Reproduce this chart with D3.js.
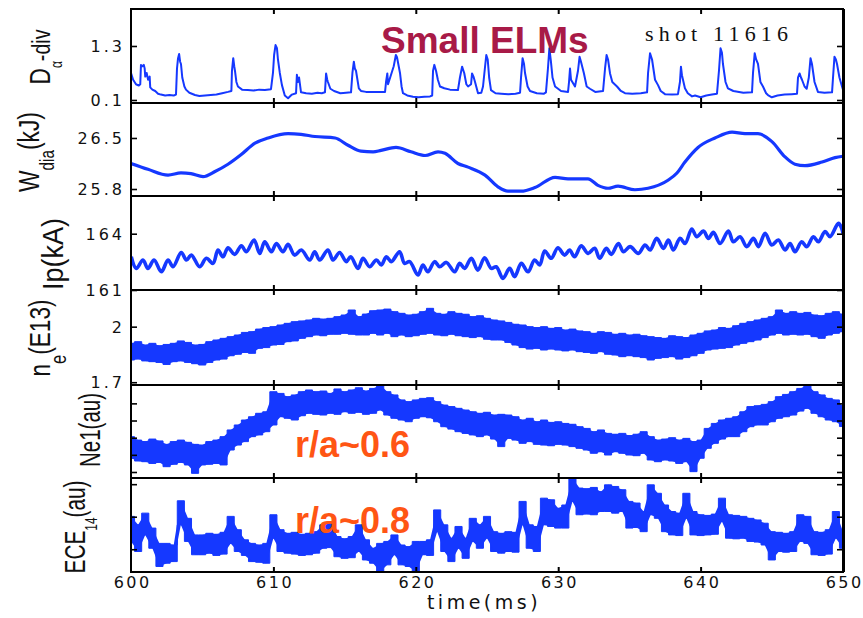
<!DOCTYPE html>
<html><head><meta charset="utf-8">
<script src="https://cdn.jsdelivr.net/npm/d3@7"></script>
<style>body{margin:0;background:#fff} svg{display:block}</style>
</head><body><svg id="c" width="863" height="618"></svg>
<script>
// ---------------- DATA ----------------
const timeDomain=[600,650];
const xTicks=[600,610,620,630,640,650];
const xTickLabels=["600","610","620","630","640","650"];
const yTickVals=[[0.1,1.3],[25.8,26.5],[161,164],[1.7,2],[0,1,2,3,4],[0,1,2]];
const yTickLabels=[["0.1","1.3"],["25.8","26.5"],["161","164"],["1.7","2"],null,null];

// D-alpha divertor signal [time(ms), value]
const dAlpha=[[600.00,0.70],[600.15,0.55],[600.35,0.45],[600.55,0.42],[600.65,0.45],[600.70,0.88],[600.80,0.85],[600.90,0.88],[600.96,0.80],[601.00,0.62],[601.10,0.70],[601.20,0.55],[601.31,0.62],[601.35,0.38],[601.50,0.33],[601.70,0.30],[601.90,0.24],[602.10,0.22],[602.40,0.20],[602.70,0.21],[603.00,0.20],[603.16,0.22],[603.23,0.80],[603.30,1.02],[603.38,1.12],[603.45,0.95],[603.51,0.90],[603.60,0.60],[603.75,0.40],[603.86,0.33],[604.10,0.26],[604.49,0.21],[604.80,0.19],[605.20,0.20],[605.60,0.21],[606.00,0.22],[606.40,0.25],[606.81,0.28],[607.05,0.30],[607.09,0.75],[607.18,1.03],[607.25,0.85],[607.30,0.75],[607.40,0.50],[607.51,0.40],[607.80,0.33],[608.20,0.32],[608.60,0.31],[609.00,0.33],[609.40,0.32],[609.83,0.34],[609.97,0.70],[610.05,1.10],[610.15,1.32],[610.25,1.25],[610.32,1.00],[610.45,0.70],[610.60,0.43],[610.80,0.20],[611.03,0.14],[611.30,0.22],[611.59,0.25],[611.65,0.66],[611.72,0.50],[611.80,0.60],[611.94,0.27],[612.30,0.25],[612.70,0.24],[613.10,0.26],[613.40,0.25],[613.62,0.27],[613.70,0.69],[613.78,0.55],[613.83,0.50],[614.00,0.35],[614.26,0.30],[614.70,0.25],[615.10,0.26],[615.45,0.27],[615.55,0.70],[615.65,0.95],[615.72,0.80],[615.80,0.75],[616.00,0.36],[616.15,0.30],[616.50,0.28],[617.00,0.28],[617.50,0.28],[617.84,0.28],[617.91,0.50],[618.00,0.69],[618.05,0.45],[618.20,0.60],[618.45,0.85],[618.60,1.10],[618.68,1.05],[618.80,0.85],[618.89,0.70],[619.00,0.40],[619.10,0.25],[619.40,0.20],[619.80,0.17],[620.20,0.16],[620.60,0.17],[621.00,0.18],[621.15,0.20],[621.21,0.75],[621.30,0.88],[621.42,0.75],[621.55,0.55],[621.70,0.40],[622.00,0.36],[622.40,0.33],[622.96,0.32],[623.10,0.60],[623.25,0.84],[623.40,0.70],[623.55,0.45],[623.67,0.40],[623.88,0.45],[623.95,0.69],[624.05,0.62],[624.16,0.50],[624.37,0.25],[624.60,0.26],[624.72,0.40],[624.85,0.80],[624.95,1.10],[625.05,1.00],[625.15,0.60],[625.28,0.32],[625.60,0.25],[626.00,0.24],[626.50,0.23],[627.00,0.24],[627.32,0.26],[627.39,0.60],[627.50,1.03],[627.60,0.90],[627.67,0.70],[627.85,0.40],[628.02,0.30],[628.50,0.25],[629.00,0.24],[629.14,0.27],[629.28,0.80],[629.38,1.25],[629.49,0.95],[629.60,0.60],[629.78,0.40],[630.20,0.30],[630.69,0.28],[630.76,0.50],[630.83,0.80],[630.90,0.55],[631.18,0.40],[631.39,0.75],[631.50,1.06],[631.60,0.95],[631.80,0.70],[632.00,0.40],[632.23,0.35],[632.60,0.28],[633.15,0.30],[633.29,0.80],[633.40,1.10],[633.50,1.00],[633.64,0.69],[633.80,0.50],[634.13,0.40],[634.40,0.30],[634.69,0.25],[635.20,0.24],[635.80,0.25],[636.24,0.27],[636.31,0.70],[636.45,1.14],[636.59,1.00],[636.80,0.55],[637.01,0.43],[637.20,0.30],[637.50,0.23],[638.00,0.22],[638.41,0.23],[638.55,0.50],[638.62,0.84],[638.69,0.65],[638.90,0.36],[639.10,0.25],[639.40,0.18],[639.61,0.20],[640.00,0.16],[640.40,0.20],[640.80,0.22],[641.15,0.24],[641.29,0.75],[641.40,1.25],[641.50,1.15],[641.57,0.90],[641.75,0.50],[641.92,0.36],[642.30,0.30],[643.00,0.26],[643.61,0.27],[643.68,0.70],[643.80,1.14],[643.90,1.00],[644.03,0.90],[644.20,0.50],[644.38,0.40],[644.60,0.25],[644.73,0.21],[645.00,0.16],[645.40,0.20],[645.90,0.22],[646.40,0.23],[646.77,0.24],[646.84,0.60],[646.95,0.69],[647.05,0.60],[647.12,0.55],[647.30,0.40],[647.45,0.35],[647.60,0.60],[647.72,1.03],[647.82,0.90],[648.00,0.50],[648.24,0.28],[648.70,0.26],[649.23,0.27],[649.30,0.60],[649.40,1.06],[649.50,1.00],[649.58,0.90],[649.75,0.60],[649.93,0.40],[650.00,0.33]];

// Diamagnetic energy (kJ)
const wDia=[[600.0,26.15],[601.19,26.07],[602.60,25.99],[603.51,26.02],[604.21,26.01],[605.06,25.97],[605.90,26.04],[606.81,26.14],[607.72,26.27],[608.71,26.43],[609.62,26.50],[611.03,26.56],[611.94,26.55],[612.92,26.52],[614.33,26.50],[615.24,26.40],[616.15,26.32],[617.0,26.31],[617.56,26.33],[618.61,26.37],[619.66,26.31],[620.65,26.26],[621.56,26.31],[622.05,26.29],[622.96,26.15],[623.67,26.10],[624.86,25.99],[625.77,25.83],[626.47,25.77],[627.39,25.77],[628.37,25.82],[629.78,25.96],[630.69,25.94],[632.09,25.94],[632.79,25.85],[633.50,25.81],[634.20,25.84],[635.39,25.79],[636.31,25.81],[637.71,25.92],[638.34,26.02],[638.90,26.17],[639.82,26.37],[641.01,26.50],[642.21,26.58],[643.12,26.56],[644.03,26.56],[645.01,26.45],[645.93,26.24],[646.63,26.14],[647.33,26.12],[648.53,26.17],[649.44,26.23],[650.0,26.25]];

// Plasma current (kA)
const ipData=[[600.02,162.77],[600.37,162.15],[600.84,162.60],[601.19,162.15],[601.62,162.60],[602.13,161.97],[602.60,162.60],[602.95,162.24],[603.53,163.00],[603.89,162.60],[604.24,162.86],[604.82,162.24],[605.29,162.69],[605.76,162.42],[606.11,163.13],[606.46,162.77],[606.81,163.25],[607.28,162.90],[607.75,163.36],[608.10,163.04],[608.64,163.66],[609.04,162.95],[609.39,163.57],[609.86,163.04],[610.21,163.48],[610.67,163.04],[611.03,163.43],[611.49,162.86],[611.96,163.13],[612.55,162.60],[612.90,163.04],[613.25,162.60],[613.83,163.13],[614.19,162.60],[614.65,163.00],[615.12,162.51],[615.43,162.77],[615.94,162.15],[616.29,162.69],[616.76,162.24],[617.23,162.60],[617.58,162.33],[617.93,162.77],[618.28,162.51],[618.86,163.04],[619.21,162.42],[619.57,162.51],[620.15,161.80],[620.50,162.33],[620.85,161.97],[621.32,162.51],[621.67,162.24],[622.14,162.47],[622.73,161.97],[623.08,162.42],[623.43,162.15],[623.90,162.69],[624.36,162.06],[624.83,162.72],[625.30,162.15],[625.65,162.24],[626.12,161.62],[626.59,162.15],[626.94,161.71],[627.41,162.42],[627.88,161.97],[628.34,162.60],[628.70,162.33],[629.05,163.08],[629.51,162.69],[629.98,163.25],[630.45,162.86],[630.80,163.13],[631.15,162.77],[631.62,163.36],[632.09,162.95],[632.56,163.22],[632.91,162.69],[633.38,163.22],[633.73,162.90],[634.23,163.48],[634.58,163.04],[635.05,163.31],[635.63,162.95],[636.10,163.40],[636.45,163.13],[636.92,163.75],[637.39,163.22],[637.74,163.66],[638.09,163.13],[638.56,163.75],[638.91,163.48],[639.38,164.25],[639.73,163.84],[640.20,164.14],[640.55,163.75],[640.90,164.07],[641.37,163.48],[641.95,164.14],[642.30,163.57],[642.77,163.84],[643.24,163.31],[643.71,163.75],[644.06,163.31],[644.53,164.02],[645.00,163.40],[645.46,163.66],[645.93,163.13],[646.28,163.48],[646.63,163.04],[647.10,163.57],[647.45,163.31],[647.92,163.84],[648.27,163.57],[648.74,164.11],[649.09,163.84],[649.68,164.55],[649.91,164.28],[650.00,164.02]];

// Sample times (ms) for the three noisy signals (min/max envelope per 0.5 ms)
const bandT=[600,600.5,601,601.5,602,602.5,603,603.5,604,604.5,605,605.5,606,606.5,607,607.5,608,608.5,609,609.5,610,610.5,611,611.5,612,612.5,613,613.5,614,614.5,615,615.5,616,616.5,617,617.5,618,618.5,619,619.5,620,620.5,621,621.5,622,622.5,623,623.5,624,624.5,625,625.5,626,626.5,627,627.5,628,628.5,629,629.5,630,630.5,631,631.5,632,632.5,633,633.5,634,634.5,635,635.5,636,636.5,637,637.5,638,638.5,639,639.5,640,640.5,641,641.5,642,642.5,643,643.5,644,644.5,645,645.5,646,646.5,647,647.5,648,648.5,649,649.5,650];

// Line-averaged density (E13)
const neHi=[1.910,1.919,1.901,1.910,1.897,1.904,1.910,1.923,1.915,1.901,
1.904,1.919,1.928,1.937,1.946,1.955,1.969,1.973,1.987,1.995,
2.000,2.009,2.018,2.027,2.031,2.036,2.045,2.041,2.045,2.054,
2.063,2.090,2.054,2.068,2.086,2.090,2.095,2.081,2.072,2.063,
2.067,2.081,2.099,2.072,2.067,2.081,2.072,2.067,2.054,2.059,
2.045,2.036,2.031,2.023,2.013,2.009,2.000,1.995,2.000,1.991,
1.995,1.982,1.987,1.977,1.973,1.964,1.973,1.969,1.959,1.964,
1.955,1.959,1.951,1.946,1.941,1.937,1.951,1.946,1.941,1.955,
1.964,1.977,1.982,1.995,1.991,2.005,2.018,2.027,2.036,2.045,
2.054,2.090,2.072,2.081,2.072,2.077,2.063,2.059,2.072,2.081,2.067];
const neLo=[1.820,1.825,1.815,1.811,1.807,1.796,1.811,1.815,1.807,1.800,
1.793,1.807,1.820,1.825,1.843,1.851,1.861,1.856,1.883,1.887,
1.901,1.904,1.919,1.923,1.937,1.946,1.955,1.951,1.959,1.959,
1.964,1.959,1.955,1.955,1.964,1.955,1.964,1.946,1.955,1.946,
1.951,1.959,1.964,1.955,1.951,1.959,1.951,1.946,1.941,1.946,
1.932,1.928,1.928,1.915,1.901,1.887,1.879,1.883,1.874,1.879,
1.874,1.869,1.874,1.865,1.861,1.856,1.865,1.851,1.847,1.838,
1.843,1.838,1.833,1.820,1.829,1.833,1.838,1.825,1.833,1.843,
1.856,1.874,1.879,1.883,1.887,1.901,1.910,1.919,1.928,1.941,
1.955,1.964,1.955,1.959,1.955,1.959,1.946,1.937,1.955,1.964,1.973];

// Ne1 (au), r/a ~ 0.6
const ne1Hi=[2.06,1.86,1.77,1.92,1.81,1.61,1.77,1.86,1.73,1.61,
1.57,1.77,1.86,2.06,2.45,2.74,3.03,3.22,3.42,3.51,
4.68,4.58,4.39,4.49,4.68,4.78,4.68,4.72,4.58,4.84,
4.68,4.78,4.91,4.72,4.87,5.07,4.68,4.49,4.20,4.10,
4.20,4.29,4.33,4.10,3.90,3.81,3.71,3.61,3.51,3.42,
3.48,3.32,3.36,3.32,3.22,3.03,3.13,2.93,3.03,2.89,
2.93,2.83,2.78,2.64,2.54,2.35,2.45,2.25,2.20,2.25,
2.12,2.20,2.35,2.06,1.86,1.92,2.00,1.86,1.96,1.77,
1.86,2.54,2.83,3.03,3.13,3.22,3.51,3.81,3.86,3.94,
4.10,4.39,4.52,4.68,4.87,5.07,4.68,4.49,4.29,4.20,3.85];
const ne1Lo=[0.80,0.64,0.60,0.50,0.56,0.31,0.45,0.56,0.41,-0.08,
0.41,0.45,0.50,0.41,1.28,1.57,1.77,2.06,2.16,2.35,
2.74,3.22,3.13,3.03,3.28,3.42,3.36,3.32,3.42,3.36,
3.51,3.42,3.48,3.36,3.42,3.61,3.32,3.13,3.03,2.93,
3.13,3.22,3.16,2.93,2.64,2.50,2.35,2.25,2.16,2.06,
2.16,1.92,1.48,1.96,1.86,1.67,1.77,1.61,1.57,1.53,
1.61,1.57,1.48,1.38,1.28,1.09,1.18,0.99,1.18,1.09,
0.99,0.95,1.09,0.70,0.60,0.70,0.64,0.50,0.60,0.02,
0.80,1.38,1.67,1.92,2.06,2.06,2.35,2.64,2.74,2.74,
2.93,3.13,3.22,3.32,3.55,3.71,3.42,3.22,3.03,2.93,2.65];

// ECE channel 14 (au), r/a ~ 0.8
const eceHi=[1.01,0.75,1.11,0.65,0.18,0.18,0.13,1.49,0.95,0.44,
0.44,0.49,0.46,0.52,1.01,0.60,0.29,0.18,0.13,0.18,
1.06,0.60,0.49,0.52,0.46,0.49,0.54,0.75,0.83,0.39,
0.32,0.39,0.75,0.29,0.03,0.18,0.24,0.44,0.13,0.08,
0.24,0.24,0.29,1.21,0.75,0.34,0.70,0.34,0.95,0.75,
1.01,0.54,0.49,0.54,0.52,1.47,0.75,0.70,1.57,1.52,
1.26,1.36,2.18,1.88,1.86,1.90,1.77,1.98,1.93,1.83,
1.47,1.42,1.16,1.98,1.72,1.36,1.16,1.11,1.72,1.16,
1.06,1.04,1.08,1.57,1.06,1.04,1.01,0.95,0.90,0.80,
0.54,0.52,0.49,0.54,1.06,1.01,0.54,0.52,0.60,1.16,0.54];
const eceLo=[0.24,-0.07,0.44,0.03,-0.53,-0.43,-0.38,0.75,0.24,-0.17,
-0.17,-0.12,-0.19,-0.15,0.18,-0.07,-0.19,-0.38,-0.40,-0.43,
0.34,-0.07,-0.12,-0.15,-0.19,-0.17,-0.12,0.03,0.05,-0.23,
-0.28,-0.26,-0.07,-0.33,-0.43,-0.69,-0.48,-0.17,-0.48,-0.53,
-0.69,-0.17,-0.19,0.54,-0.07,-0.38,0.03,-0.28,0.24,0.03,
0.34,-0.07,-0.12,-0.07,-0.09,0.75,0.03,-0.07,0.75,0.70,
0.65,0.65,1.47,1.06,1.08,1.06,1.16,1.16,1.11,1.16,
0.65,0.67,0.54,1.06,0.95,0.54,0.44,0.42,0.95,0.44,
0.42,0.44,0.46,0.85,0.34,0.32,0.34,0.24,0.22,0.13,
-0.33,-0.07,-0.09,-0.07,0.24,0.18,-0.17,-0.19,-0.15,0.34,0.03];

// ---------------- DRAW ----------------
const BLUE="#1538ff";
const svg=d3.select("#c");
const L=131,R=843;
const x=d3.scaleLinear().domain(timeDomain).range([L,R]);
const panels=[
 {y0:9,  y1:103,dom:[0.033,2.122]},
 {y0:103,y1:196,dom:[25.704,26.98]},
 {y0:196,y1:290,dom:[161,166.01]},
 {y0:290,y1:385,dom:[1.685,2.198]},
 {y0:385,y1:478,dom:[-0.35,5.07]},
 {y0:478,y1:572,dom:[-0.70,2.19]}
];
const defs=svg.append("defs");
panels.forEach((p,i)=>{
  p.y=d3.scaleLinear().domain(p.dom).range([p.y1,p.y0]);
  defs.append("clipPath").attr("id","cp"+i).append("rect")
    .attr("x",L).attr("y",p.y0).attr("width",R-L).attr("height",p.y1-p.y0);
});
const plot=(i)=>svg.append("g").attr("clip-path",`url(#cp${i})`);

// panel 1: D-alpha
plot(0).append("path").datum(dAlpha)
  .attr("d",d3.line().x(d=>x(d[0])).y(d=>panels[0].y(d[1])))
  .attr("fill","none").attr("stroke",BLUE).attr("stroke-width",2).attr("stroke-linejoin","round");
// panel 2: Wdia
plot(1).append("path").datum(wDia)
  .attr("d",d3.line().curve(d3.curveMonotoneX).x(d=>x(d[0])).y(d=>panels[1].y(d[1])))
  .attr("fill","none").attr("stroke",BLUE).attr("stroke-width",3.2);
// panel 3: Ip
plot(2).append("path").datum(ipData)
  .attr("d",d3.line().curve(d3.curveCatmullRom).x(d=>x(d[0])).y(d=>panels[2].y(d[1])))
  .attr("fill","none").attr("stroke",BLUE).attr("stroke-width",3.6);
// bands (min/max envelope drawn as stepped area)
function band(i,hi,lo){
  const p=panels[i];
  const data=bandT.map((t,k)=>({t,hi:hi[k],lo:lo[k]}));
  const g=plot(i);
  g.append("path").datum(data)
    .attr("d",d3.area().curve(d3.curveStep).x(d=>x(d.t)).y0(d=>p.y(d.lo)).y1(d=>p.y(d.hi)))
    .attr("fill",BLUE).attr("stroke",BLUE).attr("stroke-width",1);
  g.append("path").datum(data)
    .attr("d",d3.area().x(d=>x(d.t)).y0(d=>p.y(d.lo)).y1(d=>p.y(d.hi)))
    .attr("fill",BLUE);
}
band(3,neHi,neLo);
band(4,ne1Hi,ne1Lo);
band(5,eceHi,eceLo);

// axes
panels.forEach((p,i)=>{
  const gl=svg.append("g").attr("transform",`translate(${L},0)`)
    .call(d3.axisLeft(p.y).tickValues(yTickVals[i]).tickSizeInner(-6).tickSizeOuter(0).tickPadding(6)
      .tickFormat((d,k)=>yTickLabels[i]?yTickLabels[i][k]:""));
  gl.select(".domain").remove();
  gl.selectAll("line").attr("stroke","#000").attr("stroke-width",1.6);
  gl.selectAll("text").attr("font-family","DejaVu Sans, sans-serif").attr("font-size",16)
    .attr("fill","#111").style("letter-spacing","3px").attr("dy","0.36em");
  const gr=svg.append("g").attr("transform",`translate(${R},0)`)
    .call(d3.axisRight(p.y).tickValues(yTickVals[i]).tickSizeInner(-6).tickSizeOuter(0).tickFormat(""));
  gr.select(".domain").remove();
  gr.selectAll("line").attr("stroke","#000").attr("stroke-width",1.6);
  const inner=xTicks.slice(1,-1);
  const gt=svg.append("g").attr("transform",`translate(0,${p.y0})`)
    .call(d3.axisTop(x).tickValues(inner).tickSizeInner(-5).tickSizeOuter(0).tickFormat(""));
  gt.select(".domain").remove();
  gt.selectAll("line").attr("stroke","#000").attr("stroke-width",2);
  const gb=svg.append("g").attr("transform",`translate(0,${p.y1})`)
    .call(d3.axisBottom(x).tickValues(inner).tickSizeInner(-5).tickSizeOuter(0).tickFormat(""));
  gb.select(".domain").remove();
  gb.selectAll("line").attr("stroke","#000").attr("stroke-width",2);
  svg.append("rect").attr("x",L).attr("y",p.y0).attr("width",R-L).attr("height",p.y1-p.y0)
    .attr("fill","none").attr("stroke","#000").attr("stroke-width",2);
});
svg.append("line").attr("x1",R+0.5).attr("x2",R+0.5).attr("y1",9).attr("y2",572).attr("stroke","#000").attr("stroke-width",3);

// x tick labels
const gx=svg.append("g").attr("transform",`translate(0,572)`)
  .call(d3.axisBottom(x).tickValues(xTicks).tickSize(0).tickPadding(5).tickFormat((d,k)=>xTickLabels[k]));
gx.select(".domain").remove();
gx.selectAll("text").attr("font-family","DejaVu Sans, sans-serif").attr("font-size",16).attr("fill","#111")
  .style("letter-spacing","2.5px").attr("dx","1.2px").attr("dy","0.71em");

svg.append("text").attr("x",484).attr("y",609).attr("text-anchor","middle")
  .attr("font-family","DejaVu Sans, sans-serif").attr("font-size",19).style("letter-spacing","3.5px")
  .attr("fill","#111").text("time(ms)");

// rotated y labels
function vlabel(parts,baseX,cy,len){
  const g=svg.append("g");
  const t=g.append("text").attr("text-anchor","middle").attr("font-family","Liberation Sans, Arial, sans-serif")
    .attr("font-size",30).attr("fill","#111");
  let cur=0;
  parts.forEach(p=>{
    const ts=t.append("tspan").text(p.t);
    const sh=p.dy||0;
    if(sh!==cur){ts.attr("dy",sh-cur);cur=sh;}
    if(p.fs) ts.attr("font-size",p.fs);
  });
  const w=t.node().getComputedTextLength();
  g.attr("transform",`translate(${baseX},${cy}) rotate(-90) scale(${len/w},1)`);
}
vlabel([{t:"D"},{t:"α",fs:16,dy:12},{t:"-div",fs:26}],50,57,55);
vlabel([{t:"W"},{t:"dia",fs:20,dy:15},{t:"(kJ)"}],39,152,80);
vlabel([{t:"Ip(kA)"}],63,254,72);
vlabel([{t:"n"},{t:"e",fs:22,dy:16},{t:"(E13)"}],50,338,77);
vlabel([{t:"Ne1(au)"}],100,430,74);
vlabel([{t:"ECE"},{t:"14",fs:17,dy:12},{t:"(au)"}],85,527,93);

// annotations
svg.append("text").attr("x",381).attr("y",53).attr("font-family","Liberation Sans, Arial, sans-serif")
  .attr("font-weight","bold").attr("font-size",37).attr("fill","#a81a47").text("Small ELMs");
svg.append("text").attr("x",645).attr("y",41).attr("font-family","Liberation Serif, Times New Roman, serif")
  .attr("font-size",22).attr("fill","#111").attr("textLength",143).attr("lengthAdjust","spacing").text("shot 11616");
svg.append("text").attr("x",295).attr("y",457).attr("font-family","Liberation Sans, Arial, sans-serif")
  .attr("font-weight","bold").attr("font-size",36).attr("fill","#ff5514").text("r/a~0.6");
svg.append("text").attr("x",295).attr("y",533).attr("font-family","Liberation Sans, Arial, sans-serif")
  .attr("font-weight","bold").attr("font-size",36).attr("fill","#ff5514").text("r/a~0.8");
</script></body></html>
